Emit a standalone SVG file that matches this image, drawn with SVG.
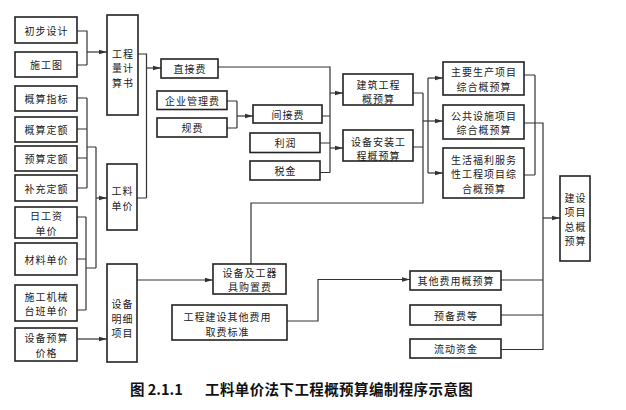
<svg xmlns="http://www.w3.org/2000/svg" width="626" height="410" viewBox="0 0 626 410">
<defs>
<style>
.box{fill:#fff;stroke:#222;stroke-width:1.6}
.t{font-family:"Noto Sans CJK SC","Noto Sans",sans-serif;font-size:10px;letter-spacing:1px;fill:#1a1a1a;text-anchor:middle;dominant-baseline:central}
.c{fill:none;stroke:#333;stroke-width:1.2}
.a{fill:none;stroke:#333;stroke-width:1.2;marker-end:url(#ah)}
.cap{font-family:"Noto Sans CJK SC","Noto Sans",sans-serif;font-size:14.5px;font-weight:bold;fill:#111}
</style>
<marker id="ah" markerUnits="userSpaceOnUse" markerWidth="8" markerHeight="6" refX="8" refY="3" orient="auto">
<path d="M0,0.8 L8,3 L0,5.2 z" fill="#333"/>
</marker>
</defs>
<rect width="626" height="410" fill="#fff"/>

<g id="connectors">
<path class="c" d="M77,31 H87 V65 M77,65 H87"/>
<path class="a" d="M87,52 H107"/>
<path class="c" d="M138,54 H146.5 V198 M137,198 H146.5"/>
<path class="a" d="M146.5,68 H161"/>
<path class="c" d="M77,98 H87 M77,129 H87 M77,158 H87 M77,188 H87 M87,98 V188 M87,147 H96"/>
<path class="c" d="M77,217 H86 M77,259 H86 M77,310 H86 M86,217 V310 M86,268 H96 M96,147 V268"/>
<path class="a" d="M96,198 H107"/>
<path class="a" d="M77,339 H107"/>
<path class="a" d="M137,280 H213"/>
<path class="c" d="M227,101 H237 M227,128 H237 M237,101 V128"/>
<path class="a" d="M237,116 H253"/>
<path class="c" d="M218,67 H330 V172.5 M322,116 H330 M320,143 H330 M320,172.5 H330"/>
<path class="a" d="M330,93 H343"/>
<path class="a" d="M330,148 H343"/>
<path class="c" d="M413,93 H423 M413,147 H423 M423,93 V203 H251 V264"/>
<path class="c" d="M428,78 V173"/>
<path class="a" d="M428,78 H443"/>
<path class="a" d="M423,121 H443"/>
<path class="a" d="M428,173 H443"/>
<path class="c" d="M524,75 H535 M524,175 H535 M535,75 V175 M524,123 H543 V350 M501,280 H543 M501,315 H543 M501,349.5 H543"/>
<path class="a" d="M543,218 H560"/>
<path class="a" d="M287,321 H318 V279.5 H410"/>
</g>

<g id="n_chubu"><rect class="box" x="15" y="17" width="62" height="26"/><text class="t" x="46.5" y="30">初步设计</text></g>
<g id="n_shigongtu"><rect class="box" x="15" y="52" width="62" height="25"/><text class="t" x="46.5" y="64.5">施工图</text></g>
<g id="n_gongchengliang"><rect class="box" x="107" y="15" width="31" height="100"/><text class="t"><tspan x="123" y="52.5">工程</tspan><tspan x="123" y="67">量计</tspan><tspan x="123" y="81.5">算书</tspan></text></g>
<g id="n_gaisuanzhibiao"><rect class="box" x="15" y="86" width="62" height="25"/><text class="t" x="46.5" y="98.5">概算指标</text></g>
<g id="n_gaisuandinge"><rect class="box" x="15" y="117" width="62" height="25"/><text class="t" x="46.5" y="129.5">概算定额</text></g>
<g id="n_yusuandinge"><rect class="box" x="15" y="146" width="62" height="25"/><text class="t" x="46.5" y="158.5">预算定额</text></g>
<g id="n_buchongdinge"><rect class="box" x="15" y="175" width="62" height="26"/><text class="t" x="46.5" y="188">补充定额</text></g>
<g id="n_rigongzi"><rect class="box" x="15" y="207" width="62" height="31"/><text class="t"><tspan x="46.5" y="215.25">日工资</tspan><tspan x="46.5" y="229.75">单价</tspan></text></g>
<g id="n_cailiao"><rect class="box" x="15" y="243" width="62" height="32"/><text class="t" x="46.5" y="259">材料单价</text></g>
<g id="n_jixie"><rect class="box" x="15" y="285" width="62" height="36"/><text class="t"><tspan x="46.5" y="295.75">施工机械</tspan><tspan x="46.5" y="310.25">台班单价</tspan></text></g>
<g id="n_shebeiyusuan"><rect class="box" x="15" y="328" width="62" height="33"/><text class="t"><tspan x="46.5" y="337.25">设备预算</tspan><tspan x="46.5" y="351.75">价格</tspan></text></g>
<g id="n_gongliaodanjia"><rect class="box" x="107" y="164" width="30" height="66"/><text class="t"><tspan x="122.5" y="190">工料</tspan><tspan x="122.5" y="204.5">单价</tspan></text></g>
<g id="n_shebeimingxi"><rect class="box" x="107" y="264" width="30" height="98"/><text class="t"><tspan x="122.5" y="303">设备</tspan><tspan x="122.5" y="317.5">明细</tspan><tspan x="122.5" y="332">项目</tspan></text></g>
<g id="n_zhijie"><rect class="box" x="161" y="59" width="57" height="19"/><text class="t" x="190" y="68.5">直接费</text></g>
<g id="n_qiye"><rect class="box" x="157" y="91" width="70" height="18.5"/><text class="t" x="192.5" y="100">企业管理费</text></g>
<g id="n_guifei"><rect class="box" x="157" y="118" width="70" height="19"/><text class="t" x="192.5" y="127.5">规费</text></g>
<g id="n_jianjie"><rect class="box" x="253" y="105" width="69" height="18"/><text class="t" x="288" y="114">间接费</text></g>
<g id="n_lirun"><rect class="box" x="250" y="133" width="70" height="19.5"/><text class="t" x="285.5" y="142.75">利润</text></g>
<g id="n_shuijin"><rect class="box" x="250" y="161" width="70" height="19"/><text class="t" x="285.5" y="170.5">税金</text></g>
<g id="n_jianzhu"><rect class="box" x="343" y="74" width="70" height="31"/><text class="t"><tspan x="378.5" y="83.5">建筑工程</tspan><tspan x="378.5" y="98">概预算</tspan></text></g>
<g id="n_shebeianzhuang"><rect class="box" x="343" y="130" width="70" height="31"/><text class="t"><tspan x="378.5" y="140.5">设备安装工</tspan><tspan x="378.5" y="155">程概预算</tspan></text></g>
<g id="n_zhuyao"><rect class="box" x="443" y="62" width="81" height="33"/><text class="t"><tspan x="484" y="71">主要生产项目</tspan><tspan x="484" y="85.5">综合概预算</tspan></text></g>
<g id="n_gonggong"><rect class="box" x="443" y="105" width="81" height="34"/><text class="t"><tspan x="484" y="114.75">公共设施项目</tspan><tspan x="484" y="129.25">综合概预算</tspan></text></g>
<g id="n_shenghuo"><rect class="box" x="443" y="148" width="81" height="50"/><text class="t"><tspan x="484" y="158.5">生活福利服务</tspan><tspan x="484" y="173">性工程项目综</tspan><tspan x="484" y="187.5">合概预算</tspan></text></g>
<g id="n_jianshe"><rect class="box" x="560" y="176" width="30" height="85"/><text class="t"><tspan x="575.5" y="196.75">建设</tspan><tspan x="575.5" y="211.25">项目</tspan><tspan x="575.5" y="225.75">总概</tspan><tspan x="575.5" y="240.25">预算</tspan></text></g>
<g id="n_shebeijiqi"><rect class="box" x="213" y="264" width="73" height="30"/><text class="t"><tspan x="250" y="271.75">设备及工器</tspan><tspan x="250" y="286.25">具购置费</tspan></text></g>
<g id="n_gongchengjianshe"><rect class="box" x="172" y="305" width="115" height="35"/><text class="t"><tspan x="227.5" y="316">工程建设其他费用</tspan><tspan x="227.5" y="330.5">取费标准</tspan></text></g>
<g id="n_qita"><rect class="box" x="410" y="271" width="91" height="19"/><text class="t" x="456" y="280.5">其他费用概预算</text></g>
<g id="n_yubei"><rect class="box" x="410" y="305" width="91" height="20"/><text class="t" x="456" y="315">预备费等</text></g>
<g id="n_liudong"><rect class="box" x="410" y="339" width="91" height="19"/><text class="t" x="456" y="348.5">流动资金</text></g>

<text class="cap" x="130" y="395">图 2.1.1</text>
<text class="cap" x="205" y="395" letter-spacing="0.4">工料单价法下工程概预算编制程序示意图</text>
</svg>
